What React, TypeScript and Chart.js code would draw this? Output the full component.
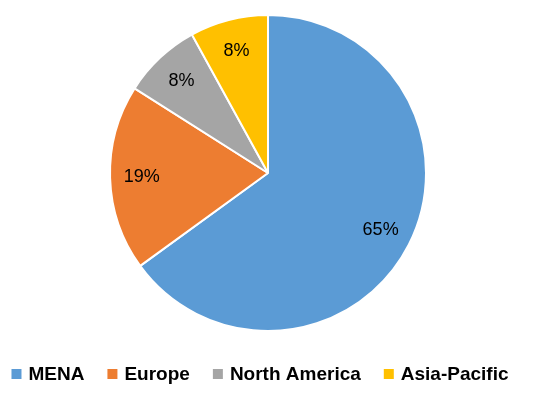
import React, { useEffect, useRef } from "react";
import { Chart, registerables } from "chart.js";

Chart.register(...registerables);

const regions = ["MENA", "Europe", "North America", "Asia-Pacific"];
const shares = [65, 19, 8, 8];
const colors = ["#5B9BD5", "#ED7D31", "#A5A5A5", "#FFC000"];

const FONT = "'Liberation Sans', Arial, sans-serif";

const labelPlugin = {
  id: "sliceLabels",
  afterDatasetsDraw(chart: any) {
    const ctx = chart.ctx;
    const meta = chart.getDatasetMeta(0);
    ctx.save();
    ctx.font = "18px " + FONT;
    ctx.fillStyle = "#000";
    ctx.textAlign = "center";
    ctx.textBaseline = "middle";
    meta.data.forEach((arc: any, i: number) => {
      const { x, y, startAngle, endAngle, outerRadius } = arc.getProps(
        ["x", "y", "startAngle", "endAngle", "outerRadius"],
        true
      );
      const mid = (startAngle + endAngle) / 2;
      const r = outerRadius * 0.8;
      ctx.fillText(shares[i] + "%", x + Math.cos(mid) * r, y + Math.sin(mid) * r);
    });
    ctx.restore();
  },
};

const legendPlugin = {
  id: "customLegend",
  afterDraw(chart: any) {
    const ctx = chart.ctx;
    ctx.save();
    ctx.font = "bold 19px " + FONT;
    ctx.textBaseline = "middle";
    ctx.textAlign = "left";
    const box = 10;
    const gap = 7;
    const spacing = 23;
    const widths = regions.map((r) => ctx.measureText(r).width);
    const total = widths.reduce((a, b) => a + b, 0) + regions.length * (box + gap) + (regions.length - 1) * spacing;
    let x = 260 - total / 2;
    const y = 374;
    regions.forEach((r, i) => {
      ctx.fillStyle = colors[i];
      ctx.fillRect(x, y - box / 2, box, box);
      x += box + gap;
      ctx.fillStyle = "#000";
      ctx.fillText(r, x, y + 1);
      x += widths[i] + spacing;
    });
    ctx.restore();
  },
};

export default function App() {
  const ref = useRef<HTMLCanvasElement | null>(null);
  useEffect(() => {
    if (!ref.current) return;
    const chart = new Chart(ref.current, {
      type: "pie",
      data: {
        labels: regions,
        datasets: [
          {
            data: shares,
            backgroundColor: colors,
            borderColor: "#ffffff",
            borderWidth: 2,
          },
        ],
      },
      options: {
        animation: false,
        responsive: true,
        maintainAspectRatio: false,
        layout: { padding: { top: 14, left: 0, right: 14, bottom: 64 } },
        plugins: {
          tooltip: { enabled: false },
          legend: { display: false },
        },
      },
      plugins: [labelPlugin, legendPlugin],
    });
    return () => chart.destroy();
  }, []);
  return (
    <div style={{ position: "fixed", left: 0, top: 0, width: 550, height: 396, background: "#fff" }}>
      <canvas ref={ref} />
    </div>
  );
}
